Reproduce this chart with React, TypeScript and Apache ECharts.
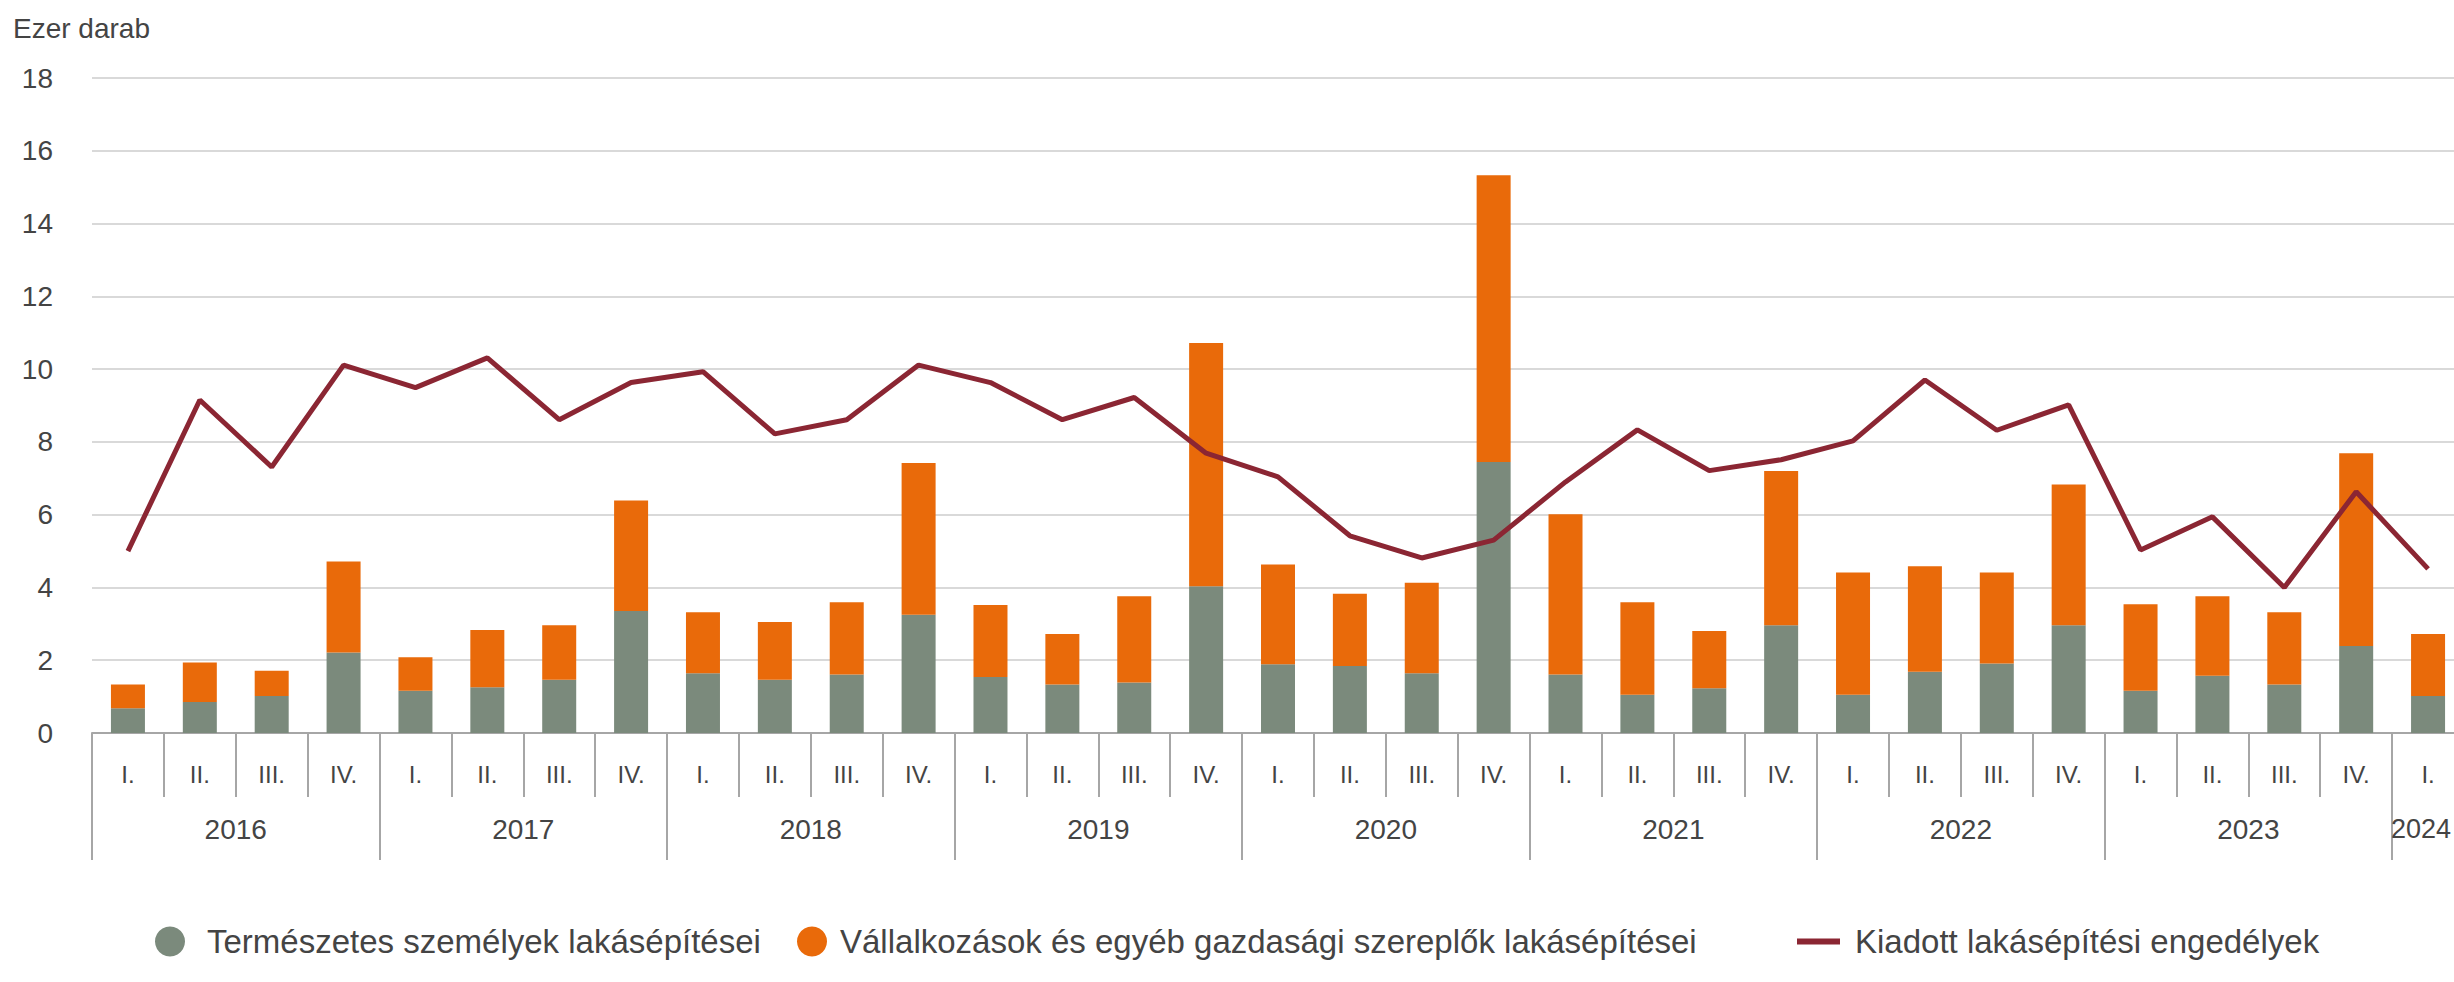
import React, { useEffect, useRef } from 'react';
import * as echarts from 'echarts';

const years = ['2016', '2017', '2018', '2019', '2020', '2021', '2022', '2023', '2024'];
const quartersPerYear = [4, 4, 4, 4, 4, 4, 4, 4, 1];
const quarterNames = ['I.', 'II.', 'III.', 'IV.'];

const seriesNames = [
  'Természetes személyek lakásépítései',
  'Vállalkozások és egyéb gazdasági szereplők lakásépítései',
  'Kiadott lakásépítési engedélyek',
];

// Ezer darab
const natural = [
  0.68, 0.85, 1.02, 2.21,
  1.16, 1.26, 1.46, 3.35,
  1.64, 1.46, 1.61, 3.25,
  1.54, 1.33, 1.39, 4.03,
  1.89, 1.84, 1.64, 7.45,
  1.61, 1.05, 1.23, 2.96,
  1.05, 1.68, 1.91, 2.96,
  1.16, 1.57, 1.33, 2.39,
  1.02,
];

const business = [
  0.65, 1.09, 0.69, 2.5,
  0.92, 1.57, 1.5, 3.04,
  1.68, 1.59, 1.98, 4.17,
  1.98, 1.39, 2.37, 6.69,
  2.74, 1.99, 2.49, 7.88,
  4.4, 2.54, 1.57, 4.24,
  3.36, 2.9, 2.5, 3.87,
  2.38, 2.19, 1.99, 5.3,
  1.7,
];

const permits = [
  5.0, 9.15, 7.31, 10.11,
  9.49, 10.31, 8.61, 9.63,
  9.93, 8.22, 8.61, 10.11,
  9.63, 8.61, 9.22, 7.69,
  7.04, 5.42, 4.81, 5.3,
  6.9, 8.33, 7.21, 7.51,
  8.03, 9.7, 8.32, 9.02,
  5.03, 5.94, 4.0, 6.63,
  4.51,
];

const yMin = 0;
const yMax = 18;
const yInterval = 2;

const FONT = "'Liberation Sans', Arial, sans-serif";
const TEXT = '#444444';
const AXIS = '#a6a6a6';

export default function App() {
  const ref = useRef<HTMLDivElement>(null);

  useEffect(() => {
    document.body.style.margin = '0';
    document.body.style.overflow = 'hidden';
    if (!ref.current) return;
    const chart = echarts.init(ref.current, undefined, { renderer: 'svg' });

    const categories: string[] = [];
    const yearCenters: number[] = [];
    let start = 0;
    years.forEach((y, i) => {
      const n = quartersPerYear[i];
      for (let q = 0; q < n; q++) categories.push(y + '|' + quarterNames[q]);
      yearCenters.push(start + n / 2);
      start += n;
    });
    const total = categories.length;

    const legendBase = {
      orient: 'horizontal',
      padding: 0,
      top: 925,
      textStyle: { fontFamily: FONT, fontSize: 33, color: TEXT },
      selectedMode: false,
    };

    chart.setOption({
      animation: false,
      backgroundColor: '#ffffff',
      grid: { left: 92, right: 6, top: 78, bottom: 249, containLabel: false },
      graphic: [
        {
          type: 'text',
          left: 13,
          top: 14,
          style: { text: 'Ezer darab', fontFamily: FONT, fontSize: 28, fill: TEXT },
        },
      ],
      legend: [
        {
          ...legendBase,
          left: 155,
          icon: 'circle',
          itemWidth: 30,
          itemHeight: 30,
          data: [seriesNames[0]],
          textStyle: { ...legendBase.textStyle, padding: [0, 0, 0, 17] },
        },
        {
          ...legendBase,
          left: 797,
          icon: 'circle',
          itemWidth: 30,
          itemHeight: 30,
          data: [seriesNames[1]],
          textStyle: { ...legendBase.textStyle, padding: [0, 0, 0, 8] },
        },
        {
          ...legendBase,
          left: 1797,
          icon: 'rect',
          itemWidth: 43,
          itemHeight: 6,
          data: [seriesNames[2]],
          textStyle: { ...legendBase.textStyle, padding: [0, 0, 0, 10] },
        },
      ],
      xAxis: [
        {
          type: 'category',
          data: categories,
          position: 'bottom',
          boundaryGap: true,
          axisLine: { show: true, lineStyle: { color: AXIS, width: 2 } },
          axisTick: { show: true, interval: 0, length: 64, lineStyle: { color: AXIS, width: 2 } },
          axisLabel: {
            interval: 0,
            margin: 29,
            fontFamily: FONT,
            fontSize: 24,
            color: TEXT,
            formatter: (v: string) => v.split('|')[1],
          },
          splitLine: { show: false },
        },
        {
          type: 'category',
          data: categories,
          position: 'bottom',
          boundaryGap: true,
          axisLine: { show: false },
          axisTick: {
            show: true,
            interval: (i: number) => {
              let s = 0;
              for (let k = 0; k < quartersPerYear.length; k++) {
                if (i === s) return true;
                s += quartersPerYear[k];
              }
              return false;
            },
            length: 127,
            lineStyle: { color: AXIS, width: 2 },
          },
          axisLabel: { show: false },
          splitLine: { show: false },
        },
        {
          type: 'value',
          position: 'bottom',
          min: 0,
          max: total,
          interval: 0.5,
          axisLine: { show: false },
          axisTick: { show: false },
          splitLine: { show: false },
          axisLabel: {
            margin: 82,
            fontFamily: FONT,
            fontSize: 28,
            color: TEXT,
            showMinLabel: true,
            showMaxLabel: true,
            formatter: (v: number) => {
              const idx = yearCenters.findIndex((c) => Math.abs(c - v) < 1e-6);
              if (idx < 0) return '';
              // the last, partial year sits at the right edge: keep it inside the picture
              return quartersPerYear[idx] < 4 ? '{edge|' + years[idx] + '}' : years[idx];
            },
            rich: {
              edge: {
                fontFamily: FONT,
                fontSize: 27,
                color: TEXT,
                padding: [0, 14, 0, 0],
              },
            },
          },
        },
      ],
      yAxis: {
        type: 'value',
        min: yMin,
        max: yMax,
        interval: yInterval,
        axisLine: { show: false },
        axisTick: { show: false },
        axisLabel: { margin: 39, fontFamily: FONT, fontSize: 28, color: TEXT },
        splitLine: { show: true, lineStyle: { color: '#d9d9d9', width: 2 } },
      },
      series: [
        {
          name: seriesNames[0],
          type: 'bar',
          stack: 'epites',
          xAxisIndex: 0,
          barWidth: 34,
          color: '#7b8a7c',
          itemStyle: { color: '#7b8a7c' },
          data: natural,
        },
        {
          name: seriesNames[1],
          type: 'bar',
          stack: 'epites',
          xAxisIndex: 0,
          barWidth: 34,
          color: '#e96a0a',
          itemStyle: { color: '#e96a0a' },
          data: business,
        },
        {
          name: seriesNames[2],
          type: 'line',
          xAxisIndex: 0,
          color: '#8b2633',
          itemStyle: { color: '#8b2633' },
          lineStyle: { color: '#8b2633', width: 5 },
          symbol: 'none',
          data: permits,
          z: 5,
        },
      ],
    });

    return () => {
      chart.dispose();
    };
  }, []);

  return <div ref={ref} style={{ width: 2470, height: 982 }} />;
}
